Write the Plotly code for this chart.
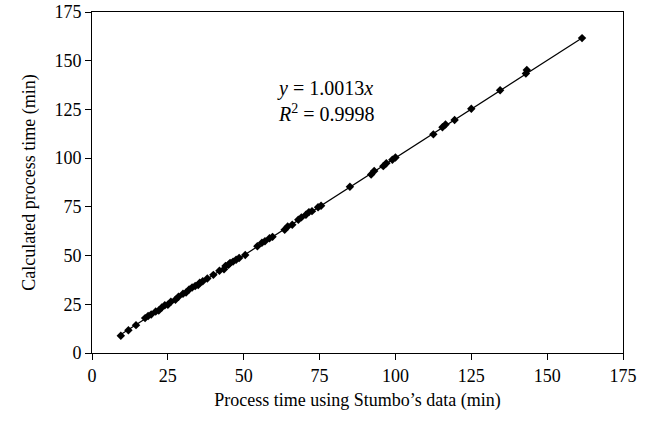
import plotly.graph_objects as go

# Process times (min): Stumbo's data vs. calculated
stumbo_min = [9.5, 12.0, 14.5, 17.5, 18.5, 19.5, 21.0, 22.0, 23.0, 24.0, 25.0, 26.0,
              27.5, 28.5, 30.0, 31.0, 32.0, 33.0, 34.0, 35.0, 35.5, 36.5, 38.0, 40.0,
              42.0, 43.5, 44.0, 45.0, 45.5, 46.5, 47.5, 48.5, 50.5, 54.5, 56.0, 57.0,
              58.5, 59.5, 63.5, 64.5, 66.0, 68.0, 69.0, 70.5, 71.5, 72.5, 74.5, 75.5,
              85.0, 92.0, 93.0, 96.0, 97.0, 99.0, 100.0, 112.5, 115.5, 116.5, 119.5,
              125.0, 134.5, 143.0, 143.3, 161.5]
calc_min = [8.8, 11.7, 14.3, 17.9, 19.0, 19.8, 21.3, 21.8, 23.4, 24.5, 24.8, 26.3,
            27.3, 28.9, 30.4, 31.1, 32.6, 33.6, 34.4, 34.9, 36.0, 36.8, 38.2, 40.1,
            42.2, 43.0, 44.6, 45.3, 46.2, 46.9, 47.9, 48.8, 50.3, 54.8, 56.6, 57.4,
            58.9, 59.6, 63.2, 64.9, 65.8, 68.4, 69.6, 70.9, 72.3, 72.8, 74.8, 75.6,
            85.3, 91.6, 93.4, 95.9, 97.4, 99.2, 100.3, 112.2, 115.9, 117.3, 119.6,
            125.3, 134.8, 143.4, 145.2, 161.6]

slope = 1.0013
r_squared = 0.9998

x_ticks = [0, 25, 50, 75, 100, 125, 150, 175]
y_ticks = [0, 25, 50, 75, 100, 125, 150, 175]

fit_x = [min(stumbo_min), max(stumbo_min)]
fit_y = [slope * v for v in fit_x]

font_family = "Liberation Serif, Times New Roman, serif"

fig = go.Figure()
fig.add_trace(go.Scatter(
    x=fit_x, y=fit_y, mode="lines",
    line=dict(color="black", width=1.2),
    showlegend=False, hoverinfo="skip",
))
fig.add_trace(go.Scatter(
    x=stumbo_min, y=calc_min, mode="markers",
    marker=dict(symbol="diamond", size=6.5, color="black"),
    showlegend=False,
))

fig.add_annotation(
    x=0.345, y=0.74, xref="paper", yref="paper",
    xanchor="left", yanchor="middle", align="left",
    text=f"<i>y</i> = {slope:.4f}<i>x</i><br><i>R</i><sup>2</sup> = {r_squared:.4f}",
    showarrow=False,
    font=dict(family=font_family, size=20, color="black"),
)

axis_common = dict(
    showline=True, linecolor="black", linewidth=1, mirror=True,
    ticks="outside", ticklen=6, tickcolor="black", tickwidth=1,
    showgrid=False, zeroline=False, automargin=False,
    tickfont=dict(family=font_family, size=18, color="black"),
)

fig.update_xaxes(
    range=[0, 175], tickvals=x_ticks,
    title=dict(text="Process time using Stumbo’s data (min)",
               font=dict(family=font_family, size=18, color="black"), standoff=8),
    **axis_common,
)
fig.update_yaxes(
    range=[0, 175], tickvals=y_ticks,
    title=dict(text="Calculated process time (min)",
               font=dict(family=font_family, size=18, color="black"), standoff=14),
    **axis_common,
)

fig.update_layout(
    width=648, height=425,
    margin=dict(l=92, r=25, t=12, b=72),
    paper_bgcolor="white", plot_bgcolor="white",
)

fig.write_html("out.html")
